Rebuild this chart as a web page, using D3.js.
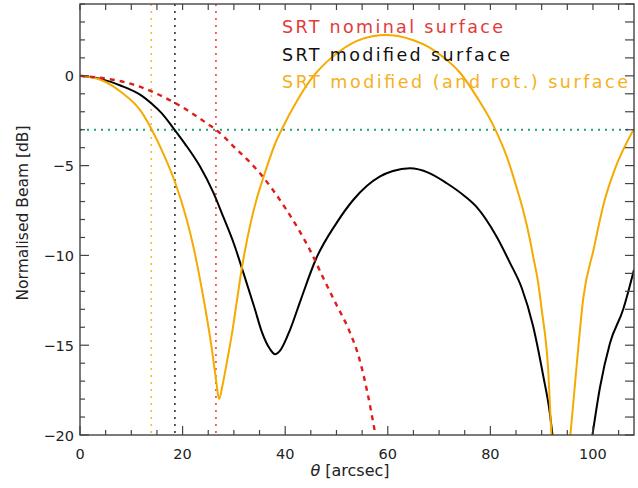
<html>
<head>
<meta charset="utf-8">
<script src="https://d3js.org/d3.v7.min.js"></script>
<style>
body { margin: 0; background: #fff; }
text { font-family: "DejaVu Sans", sans-serif; }
</style>
</head>
<body>
<svg id="chart" width="638" height="488"></svg>
<script>
// beam profiles (theta in arcsec, beam in dB)
// a null marks where the curve leaves the bottom of the frame
var nominalTheta = [0, 5, 10, 15, 20, 25, 26.5, 30, 35, 40, 42.5, 45, 47.5, 50, 52.5, 54.5, 56, 57.6];
var nominalDb    = [0, -0.15, -0.45, -1.0, -1.75, -2.7, -3.0, -3.95, -5.4, -7.35, -8.5, -9.8, -11.3, -12.75, -14.2, -15.8, -17.6, -20];

var modifiedTheta = [0, 4, 8, 12, 14, 16, 18.3, 20.5, 23.4, 26, 28, 30, 32, 34, 35.5, 37, 38, 39, 41, 43, 46, 50, 53.3, 58.5, 61, 64.3, 68, 71.5, 75, 77.3, 81.2, 83.8, 86.1, 88.3, 90.3, 91.6, 92.1, 96, 99.9, 101.4, 103.3, 105.9, 108];
var modifiedDb    = [0, -0.17, -0.55, -1.1, -1.55, -2.1, -2.95, -3.8, -5.05, -6.5, -7.9, -9.35, -11.1, -12.9, -14.3, -15.2, -15.5, -15.3, -14.1, -12.5, -10.2, -8.2, -6.9, -5.6, -5.3, -5.15, -5.4, -5.98, -6.7, -7.3, -8.95, -10.4, -11.8, -13.9, -16.7, -18.8, -20, null, -20, -17.3, -14.9, -13, -10.8];

var rotatedTheta = [0, 4, 8, 11.7, 14, 16.2, 18.5, 20.8, 22.1, 23.7, 25.7, 26.6, 27.1, 27.8, 28.6, 29.6, 30.5, 31.5, 33.1, 34.4, 35.7, 38.3, 39.3, 42.4, 45, 48, 51, 54, 57, 59.5, 62, 65, 68, 71, 74, 77.4, 80.9, 83.2, 85.4, 86.4, 87.7, 88.3, 89.3, 90, 91.3, 91.9, 94, 95.6, 96.8, 98.1, 100.1, 102.3, 104, 107.9];
var rotatedDb    = [0, -0.22, -0.9, -1.9, -3.0, -4.3, -5.9, -8.0, -9.5, -11.8, -15.2, -17.1, -18.0, -17.2, -16.0, -14.4, -12.7, -10.8, -8.4, -6.9, -5.7, -3.6, -3.0, -1.35, -0.2, 0.75, 1.45, 1.95, 2.2, 2.28, 2.22, 1.98, 1.6, 1.0, 0.2, -1.2, -2.95, -4.5, -6.5, -7.5, -9.1, -10, -11.5, -13, -16.5, -20, null, -20, -16.2, -12.4, -9.7, -6.9, -5.4, -3];

// half power beam widths and the -3 dB level
var hpbwTheta = [13.9, 18.5, 26.5];
var halfPowerDb = -3;

var legendLabels = ["SRT nominal surface", "SRT modified surface", "SRT modified (and rot.) surface"];
var xTicks = [0, 20, 40, 60, 80, 100];
var yTicks = [0, -5, -10, -15, -20];

var red = "#e01c1c", black = "#000000", orange = "#f5aa00", green = "#1fa37a";

var svg = d3.select("#chart");
var pLeft = 80, pRight = 634, pTop = 4, pBottom = 435;

var x = d3.scaleLinear().domain([0, 108]).range([pLeft, pRight]);
var y = d3.scaleLinear().domain([-20, 4]).range([pBottom, pTop]);

svg.append("clipPath").attr("id", "plotclip")
  .append("rect").attr("x", pLeft).attr("y", pTop)
  .attr("width", pRight - pLeft).attr("height", pBottom - pTop);

var plot = svg.append("g").attr("clip-path", "url(#plotclip)");

// -3 dB level
plot.append("line")
  .attr("x1", x(0)).attr("x2", x(108))
  .attr("y1", y(halfPowerDb)).attr("y2", y(halfPowerDb))
  .attr("stroke", green).attr("stroke-width", 2)
  .attr("stroke-dasharray", "2,5");

// vertical beam width markers
var markerColours = ["#f7b838", "#333333", "#e8454a"];
plot.selectAll("line.hpbw")
  .data(hpbwTheta)
  .enter().append("line")
  .attr("class", "hpbw")
  .attr("x1", function(d) { return x(d); })
  .attr("x2", function(d) { return x(d); })
  .attr("y1", y(4)).attr("y2", y(-20))
  .attr("stroke", function(d, i) { return markerColours[i]; })
  .attr("stroke-width", 1.6)
  .attr("stroke-dasharray", "2,5");

var line = d3.line()
  .defined(function(d) { return d[1] !== null; })
  .x(function(d) { return x(d[0]); })
  .y(function(d) { return y(d[1]); })
  .curve(d3.curveMonotoneX);

function pairs(xs, ys) { return xs.map(function(v, i) { return [v, ys[i]]; }); }

plot.append("path")
  .datum(pairs(modifiedTheta, modifiedDb))
  .attr("fill", "none").attr("stroke", black).attr("stroke-width", 2)
  .attr("d", line);

plot.append("path")
  .datum(pairs(rotatedTheta, rotatedDb))
  .attr("fill", "none").attr("stroke", orange).attr("stroke-width", 2)
  .attr("d", line);

plot.append("path")
  .datum(pairs(nominalTheta, nominalDb))
  .attr("fill", "none").attr("stroke", red).attr("stroke-width", 2.4)
  .attr("stroke-dasharray", "5,5")
  .attr("d", line);

// frame
svg.append("rect")
  .attr("x", pLeft).attr("y", pTop)
  .attr("width", pRight - pLeft).attr("height", pBottom - pTop)
  .attr("fill", "none").attr("stroke", "#444").attr("stroke-width", 1.4);

// bottom ticks (major + minor), top ticks
var axisG = svg.append("g").attr("stroke", "#444").attr("stroke-width", 1.2);
d3.range(0, 108.1, 5).forEach(function(v) {
  var major = v % 20 === 0;
  axisG.append("line").attr("x1", x(v)).attr("x2", x(v))
    .attr("y1", pBottom).attr("y2", pBottom - (major ? 9 : 5));
  axisG.append("line").attr("x1", x(v)).attr("x2", x(v))
    .attr("y1", pTop).attr("y2", pTop + 6);
});
// left and right ticks
d3.range(-20, 4.1, 1).forEach(function(v) {
  var major = v % 5 === 0;
  axisG.append("line").attr("y1", y(v)).attr("y2", y(v))
    .attr("x1", pLeft).attr("x2", pLeft + (major ? 9 : 5));
  axisG.append("line").attr("y1", y(v)).attr("y2", y(v))
    .attr("x1", pRight).attr("x2", pRight - 9);
});

svg.selectAll("text.xt")
  .data(xTicks)
  .enter().append("text")
  .attr("class", "xt")
  .attr("x", function(d) { return x(d); })
  .attr("y", 459)
  .attr("text-anchor", "middle")
  .attr("font-size", 14.5)
  .attr("fill", "#222")
  .text(function(d) { return d; });

svg.selectAll("text.yt")
  .data(yTicks)
  .enter().append("text")
  .attr("class", "yt")
  .attr("x", 74)
  .attr("y", function(d) { return y(d) + 5.5; })
  .attr("text-anchor", "end")
  .attr("font-size", 14.5)
  .attr("fill", "#222")
  .text(function(d) { return d < 0 ? "\u2212" + (-d) : d; });

// axis titles
var xt = svg.append("text")
  .attr("x", 350).attr("y", 476)
  .attr("text-anchor", "middle")
  .attr("font-size", 16)
  .attr("fill", "#222");
xt.append("tspan").attr("font-style", "italic").text("\u03b8");
xt.append("tspan").text(" [arcsec]");

svg.append("text")
  .attr("transform", "translate(28,213) rotate(-90)")
  .attr("text-anchor", "middle")
  .attr("font-size", 15.5)
  .attr("fill", "#222")
  .text("Normalised Beam [dB]");

// legend
var legendColours = ["#e23a3a", "#111111", "#f5b021"];
var legendWidths = [221, 228, 346];
svg.selectAll("text.leg")
  .data(legendLabels)
  .enter().append("text")
  .attr("class", "leg")
  .attr("x", 282)
  .attr("y", function(d, i) { return 33 + i * 27.5; })
  .attr("font-size", 17.5)
  .attr("textLength", function(d, i) { return legendWidths[i]; })
  .attr("lengthAdjust", "spacing")
  .attr("fill", function(d, i) { return legendColours[i]; })
  .text(function(d) { return d; });
</script>
</body>
</html>
